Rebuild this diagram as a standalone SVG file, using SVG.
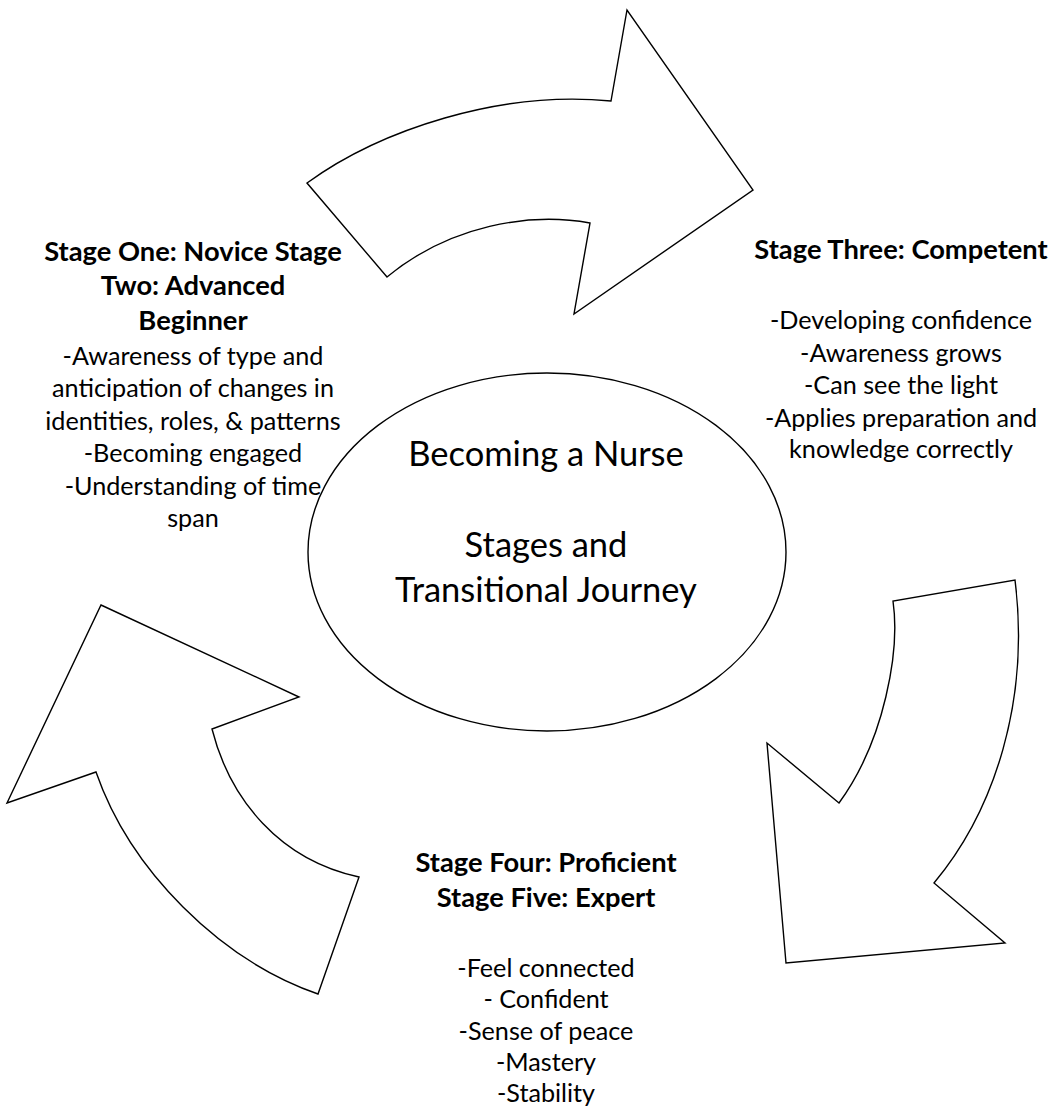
<svg xmlns="http://www.w3.org/2000/svg" width="1054" height="1109" viewBox="0 0 1054 1109">
<style>
.arrow{fill:#fff;stroke:#000;stroke-width:1.4;stroke-linejoin:miter}
.ell{fill:#fff;stroke:#000;stroke-width:1.4}
text{font-family:Lato,"Liberation Sans",sans-serif;fill:#000;text-anchor:middle}
.b{font-weight:bold;font-size:27.3px}
.r{font-size:25.2px}
.big{font-size:34.5px}
</style>
<rect width="1054" height="1109" fill="#fff"/>
<g id="connectors">
<path id="arrow-top" class="arrow" d="M307,183 C380,130 500,90 611,101 L627,10 L753,190 L574,314 L590,223 C530,212 450,225 387,277 Z"/>
<path id="arrow-right" class="arrow" d="M1015,580 C1030,700 995,810 934,883 L1005,943 L786,963 L767,743 L839,803 C885,740 900,650 893,601 Z"/>
<path id="arrow-left" class="arrow" d="M101,605 L299,697 L212,729 C230,800 280,860 359,877 L318,994 C220,960 130,870 96,772 L7,803 Z"/>
</g>
<g id="center">
<ellipse class="ell" cx="547" cy="552" rx="239" ry="179"/>
<text class="big" x="546" y="466">Becoming a Nurse</text>
<text class="big" x="546" y="557">Stages and</text>
<text class="big" x="546" y="602">Transitional Journey</text>
</g>
<g id="stage-one-two">
<text class="b" x="193" y="260.5">Stage One: Novice Stage</text>
<text class="b" x="193" y="295">Two: Advanced</text>
<text class="b" x="193" y="330">Beginner</text>
<text class="r" x="193" y="364.5">-Awareness of type and</text>
<text class="r" x="193" y="397">anticipation of changes in</text>
<text class="r" x="193" y="429.5">identities, roles, &amp; patterns</text>
<text class="r" x="193" y="462">-Becoming engaged</text>
<text class="r" x="193" y="494.5">-Understanding of time</text>
<text class="r" x="193" y="527">span</text>
</g>
<g id="stage-three">
<text class="b" x="901" y="259">Stage Three: Competent</text>
<text class="r" x="901" y="329">-Developing confidence</text>
<text class="r" x="901" y="361.7">-Awareness grows</text>
<text class="r" x="901" y="394">-Can see the light</text>
<text class="r" x="901" y="426.7">-Applies preparation and</text>
<text class="r" x="901" y="458">knowledge correctly</text>
</g>
<g id="stage-four-five">
<text class="b" x="546" y="871.7">Stage Four: Proficient</text>
<text class="b" x="546" y="906.7">Stage Five: Expert</text>
<text class="r" x="546" y="976.5">-Feel connected</text>
<text class="r" x="546" y="1008">- Confident</text>
<text class="r" x="546" y="1039.5">-Sense of peace</text>
<text class="r" x="546" y="1071">-Mastery</text>
<text class="r" x="546" y="1102">-Stability</text>
</g>
</svg>
